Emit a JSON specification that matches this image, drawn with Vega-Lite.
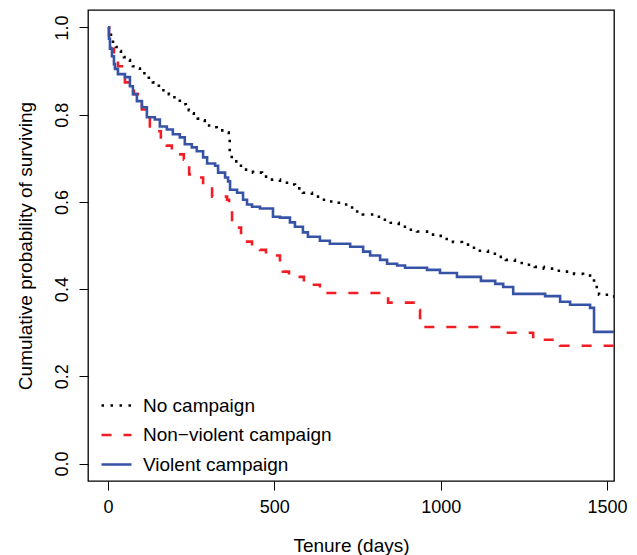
{
  "$schema": "https://vega.github.io/schema/vega-lite/v6.json",
  "width": 526,
  "height": 471,
  "autosize": {"type": "none"},
  "padding": {"left": 88, "top": 10, "right": 23, "bottom": 74},
  "background": "white",
  "config": {
    "font": "Liberation Sans",
    "view": {"stroke": "black", "strokeWidth": 1.3},
    "axis": {"domain": false, "grid": false, "tickColor": "black", "tickSize": 9, "tickWidth": 1, "labelColor": "black", "labelFontSize": 18, "labelFont": "Liberation Sans", "titleFont": "Liberation Sans", "titleFontSize": 19, "titleFontWeight": "normal", "titleColor": "black"}
  },
  "datasets": {
    "km": [
      {"g":"No campaign","t":0,"s":1.0},{"g":"No campaign","t":3,"s":0.991},{"g":"No campaign","t":9,"s":0.980},{"g":"No campaign","t":15,"s":0.964},{"g":"No campaign","t":24,"s":0.955},{"g":"No campaign","t":30,"s":0.946},{"g":"No campaign","t":39,"s":0.939},{"g":"No campaign","t":48,"s":0.932},{"g":"No campaign","t":57,"s":0.925},{"g":"No campaign","t":66,"s":0.918},{"g":"No campaign","t":75,"s":0.911},{"g":"No campaign","t":84,"s":0.906},{"g":"No campaign","t":96,"s":0.900},{"g":"No campaign","t":105,"s":0.895},{"g":"No campaign","t":114,"s":0.888},{"g":"No campaign","t":123,"s":0.881},{"g":"No campaign","t":135,"s":0.874},{"g":"No campaign","t":144,"s":0.870},{"g":"No campaign","t":153,"s":0.863},{"g":"No campaign","t":159,"s":0.856},{"g":"No campaign","t":171,"s":0.851},{"g":"No campaign","t":183,"s":0.847},{"g":"No campaign","t":195,"s":0.840},{"g":"No campaign","t":204,"s":0.835},{"g":"No campaign","t":216,"s":0.828},{"g":"No campaign","t":225,"s":0.824},{"g":"No campaign","t":234,"s":0.817},{"g":"No campaign","t":243,"s":0.810},{"g":"No campaign","t":252,"s":0.803},{"g":"No campaign","t":258,"s":0.796},{"g":"No campaign","t":270,"s":0.791},{"g":"No campaign","t":279,"s":0.787},{"g":"No campaign","t":291,"s":0.780},{"g":"No campaign","t":300,"s":0.775},{"g":"No campaign","t":315,"s":0.771},{"g":"No campaign","t":327,"s":0.768},{"g":"No campaign","t":339,"s":0.764},{"g":"No campaign","t":351,"s":0.759},{"g":"No campaign","t":363,"s":0.743},{"g":"No campaign","t":366,"s":0.716},{"g":"No campaign","t":372,"s":0.693},{"g":"No campaign","t":390,"s":0.683},{"g":"No campaign","t":411,"s":0.674},{"g":"No campaign","t":436,"s":0.667},{"g":"No campaign","t":463,"s":0.658},{"g":"No campaign","t":487,"s":0.651},{"g":"No campaign","t":517,"s":0.644},{"g":"No campaign","t":538,"s":0.640},{"g":"No campaign","t":562,"s":0.631},{"g":"No campaign","t":586,"s":0.621},{"g":"No campaign","t":613,"s":0.612},{"g":"No campaign","t":640,"s":0.605},{"g":"No campaign","t":667,"s":0.601},{"g":"No campaign","t":694,"s":0.594},{"g":"No campaign","t":721,"s":0.587},{"g":"No campaign","t":742,"s":0.578},{"g":"No campaign","t":766,"s":0.571},{"g":"No campaign","t":802,"s":0.566},{"g":"No campaign","t":826,"s":0.559},{"g":"No campaign","t":850,"s":0.552},{"g":"No campaign","t":874,"s":0.543},{"g":"No campaign","t":902,"s":0.536},{"g":"No campaign","t":929,"s":0.532},{"g":"No campaign","t":959,"s":0.525},{"g":"No campaign","t":989,"s":0.522},{"g":"No campaign","t":1013,"s":0.515},{"g":"No campaign","t":1037,"s":0.508},{"g":"No campaign","t":1064,"s":0.502},{"g":"No campaign","t":1094,"s":0.495},{"g":"No campaign","t":1118,"s":0.488},{"g":"No campaign","t":1142,"s":0.481},{"g":"No campaign","t":1169,"s":0.474},{"g":"No campaign","t":1196,"s":0.467},{"g":"No campaign","t":1223,"s":0.460},{"g":"No campaign","t":1253,"s":0.456},{"g":"No campaign","t":1283,"s":0.451},{"g":"No campaign","t":1310,"s":0.447},{"g":"No campaign","t":1341,"s":0.442},{"g":"No campaign","t":1371,"s":0.440},{"g":"No campaign","t":1401,"s":0.435},{"g":"No campaign","t":1428,"s":0.431},{"g":"No campaign","t":1449,"s":0.426},{"g":"No campaign","t":1461,"s":0.405},{"g":"No campaign","t":1476,"s":0.387},{"g":"No campaign","t":1506,"s":0.383},{"g":"No campaign","t":1521,"s":0.383},
      {"g":"Non−violent campaign","t":0,"s":1.0},{"g":"Non−violent campaign","t":3,"s":0.974},{"g":"Non−violent campaign","t":9,"s":0.951},{"g":"Non−violent campaign","t":18,"s":0.928},{"g":"Non−violent campaign","t":30,"s":0.911},{"g":"Non−violent campaign","t":42,"s":0.893},{"g":"Non−violent campaign","t":51,"s":0.874},{"g":"Non−violent campaign","t":66,"s":0.863},{"g":"Non−violent campaign","t":78,"s":0.847},{"g":"Non−violent campaign","t":90,"s":0.835},{"g":"Non−violent campaign","t":102,"s":0.812},{"g":"Non−violent campaign","t":114,"s":0.796},{"g":"Non−violent campaign","t":126,"s":0.773},{"g":"Non−violent campaign","t":144,"s":0.762},{"g":"Non−violent campaign","t":159,"s":0.748},{"g":"Non−violent campaign","t":177,"s":0.729},{"g":"Non−violent campaign","t":192,"s":0.718},{"g":"Non−violent campaign","t":210,"s":0.709},{"g":"Non−violent campaign","t":228,"s":0.697},{"g":"Non−violent campaign","t":244,"s":0.663},{"g":"Non−violent campaign","t":262,"s":0.656},{"g":"Non−violent campaign","t":286,"s":0.640},{"g":"Non−violent campaign","t":313,"s":0.612},{"g":"Non−violent campaign","t":358,"s":0.605},{"g":"Non−violent campaign","t":364,"s":0.582},{"g":"Non−violent campaign","t":373,"s":0.555},{"g":"Non−violent campaign","t":382,"s":0.541},{"g":"Non−violent campaign","t":400,"s":0.523},{"g":"Non−violent campaign","t":409,"s":0.509},{"g":"Non−violent campaign","t":433,"s":0.495},{"g":"Non−violent campaign","t":457,"s":0.490},{"g":"Non−violent campaign","t":475,"s":0.477},{"g":"Non−violent campaign","t":517,"s":0.456},{"g":"Non−violent campaign","t":526,"s":0.440},{"g":"Non−violent campaign","t":544,"s":0.428},{"g":"Non−violent campaign","t":589,"s":0.410},{"g":"Non−violent campaign","t":637,"s":0.391},{"g":"Non−violent campaign","t":833,"s":0.382},{"g":"Non−violent campaign","t":842,"s":0.369},{"g":"Non−violent campaign","t":926,"s":0.352},{"g":"Non−violent campaign","t":938,"s":0.334},{"g":"Non−violent campaign","t":950,"s":0.313},{"g":"Non−violent campaign","t":1197,"s":0.300},{"g":"Non−violent campaign","t":1278,"s":0.284},{"g":"Non−violent campaign","t":1359,"s":0.270},{"g":"Non−violent campaign","t":1521,"s":0.270},
      {"g":"Violent campaign","t":0,"s":1.0},{"g":"Violent campaign","t":3,"s":0.974},{"g":"Violent campaign","t":6,"s":0.951},{"g":"Violent campaign","t":12,"s":0.934},{"g":"Violent campaign","t":18,"s":0.916},{"g":"Violent campaign","t":21,"s":0.905},{"g":"Violent campaign","t":30,"s":0.893},{"g":"Violent campaign","t":51,"s":0.886},{"g":"Violent campaign","t":66,"s":0.865},{"g":"Violent campaign","t":75,"s":0.847},{"g":"Violent campaign","t":87,"s":0.831},{"g":"Violent campaign","t":102,"s":0.817},{"g":"Violent campaign","t":117,"s":0.794},{"g":"Violent campaign","t":141,"s":0.789},{"g":"Violent campaign","t":156,"s":0.773},{"g":"Violent campaign","t":177,"s":0.766},{"g":"Violent campaign","t":195,"s":0.755},{"g":"Violent campaign","t":216,"s":0.748},{"g":"Violent campaign","t":231,"s":0.732},{"g":"Violent campaign","t":252,"s":0.725},{"g":"Violent campaign","t":267,"s":0.716},{"g":"Violent campaign","t":286,"s":0.702},{"g":"Violent campaign","t":298,"s":0.688},{"g":"Violent campaign","t":322,"s":0.683},{"g":"Violent campaign","t":331,"s":0.667},{"g":"Violent campaign","t":352,"s":0.656},{"g":"Violent campaign","t":361,"s":0.647},{"g":"Violent campaign","t":367,"s":0.628},{"g":"Violent campaign","t":388,"s":0.621},{"g":"Violent campaign","t":406,"s":0.605},{"g":"Violent campaign","t":418,"s":0.594},{"g":"Violent campaign","t":433,"s":0.589},{"g":"Violent campaign","t":457,"s":0.585},{"g":"Violent campaign","t":496,"s":0.566},{"g":"Violent campaign","t":517,"s":0.564},{"g":"Violent campaign","t":547,"s":0.553},{"g":"Violent campaign","t":562,"s":0.543},{"g":"Violent campaign","t":586,"s":0.530},{"g":"Violent campaign","t":601,"s":0.520},{"g":"Violent campaign","t":637,"s":0.511},{"g":"Violent campaign","t":667,"s":0.504},{"g":"Violent campaign","t":728,"s":0.497},{"g":"Violent campaign","t":767,"s":0.486},{"g":"Violent campaign","t":788,"s":0.477},{"g":"Violent campaign","t":818,"s":0.467},{"g":"Violent campaign","t":839,"s":0.458},{"g":"Violent campaign","t":869,"s":0.454},{"g":"Violent campaign","t":893,"s":0.449},{"g":"Violent campaign","t":959,"s":0.444},{"g":"Violent campaign","t":998,"s":0.437},{"g":"Violent campaign","t":1049,"s":0.428},{"g":"Violent campaign","t":1121,"s":0.419},{"g":"Violent campaign","t":1164,"s":0.412},{"g":"Violent campaign","t":1188,"s":0.405},{"g":"Violent campaign","t":1218,"s":0.389},{"g":"Violent campaign","t":1314,"s":0.384},{"g":"Violent campaign","t":1359,"s":0.371},{"g":"Violent campaign","t":1389,"s":0.364},{"g":"Violent campaign","t":1449,"s":0.357},{"g":"Violent campaign","t":1461,"s":0.302},{"g":"Violent campaign","t":1521,"s":0.302}
    ]
  },
  "data": {"name": "km"},
  "mark": {"type": "line", "interpolate": "step-after", "strokeWidth": 2.6, "clip": true},
  "encoding": {
    "x": {"field": "t", "type": "quantitative", "title": "Tenure (days)",
      "scale": {"domain": [-60, 1521], "nice": false, "zero": false},
      "axis": {"values": [0, 500, 1000, 1500], "format": "d", "labelPadding": 8, "labelBaseline": "top", "titleX": 263, "titleY": 64, "titleBaseline": "middle", "titleAnchor": "middle"}},
    "y": {"field": "s", "type": "quantitative", "title": "Cumulative probability of surviving",
      "scale": {"domain": [-0.04, 1.04], "nice": false, "zero": false},
      "axis": {"values": [0, 0.2, 0.4, 0.6, 0.8, 1.0], "format": ".1f", "labelAngle": -90, "labelAlign": "center", "labelBaseline": "alphabetic", "labelPadding": 12, "titleX": -63, "titleY": 235.5, "titleBaseline": "middle", "titleAngle": -90, "titleAlign": "center"}},
    "color": {"field": "g", "type": "nominal", "title": null,
      "scale": {"domain": ["No campaign", "Non−violent campaign", "Violent campaign"], "range": ["#000000", "#F21D24", "#3653A5"]},
      "legend": {"orient": "none", "legendX": 12, "legendY": 379, "symbolType": "stroke", "symbolSize": 900, "symbolStrokeWidth": 2.6, "labelFontSize": 19, "labelFont": "Liberation Sans", "labelColor": "black", "labelOffset": 10, "labelLimit": 400, "rowPadding": 2.5, "padding": 0}},
    "strokeDash": {"field": "g", "type": "nominal", "title": null,
      "scale": {"domain": ["No campaign", "Non−violent campaign", "Violent campaign"], "range": [[2.5, 6.5], [10, 12], [1, 0]]}}
  }
}
